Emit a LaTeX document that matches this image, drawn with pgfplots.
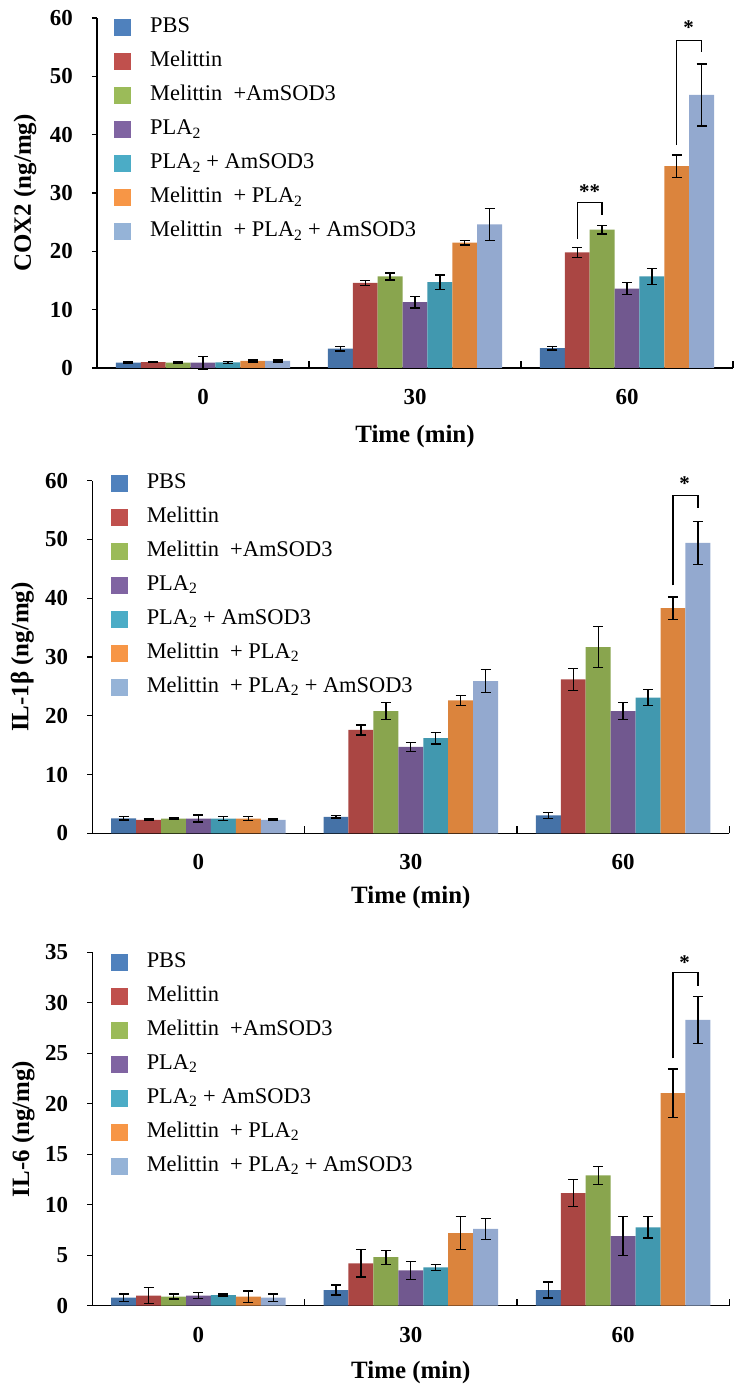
\documentclass[border=0pt]{standalone}
\usepackage{fontspec}
\setmainfont{Liberation Serif}
\usepackage{pgfplots}
\pgfplotsset{compat=1.18}

\definecolor{b1}{HTML}{4572A7}\definecolor{l1}{HTML}{4F81BD}
\definecolor{b2}{HTML}{AA4643}\definecolor{l2}{HTML}{C0504D}
\definecolor{b3}{HTML}{89A54E}\definecolor{l3}{HTML}{9BBB59}
\definecolor{b4}{HTML}{71588F}\definecolor{l4}{HTML}{8064A2}
\definecolor{b5}{HTML}{4198AF}\definecolor{l5}{HTML}{4BACC6}
\definecolor{b6}{HTML}{DB843D}\definecolor{l6}{HTML}{F79646}
\definecolor{b7}{HTML}{93A9CF}\definecolor{l7}{HTML}{95B3D7}

\pgfplotsset{
  panel/.style={
    scale only axis, anchor=south west, clip=false,
    xmin=-0.5, xmax=2.5, ymin=0,
    axis x line*=bottom, axis y line*=left,
    axis line style={line width=1.2bp, black},
    every tick/.style={line width=1.2bp, black},
    tick align=outside,
    major tick length=5bp,
    xtick={0,1,2}, xticklabels={0,30,60},
    major x tick style={draw=none},
    minor xtick={0.5,1.5,2.5},
    minor tick length=7bp,
    minor x tick style={yshift=7bp},
    ticklabel style={font=\bfseries\fontsize{23}{23}\selectfont},
    /pgf/number format/assume math mode=true,
    xticklabel style={anchor=center, yshift=-24bp},
    yticklabel style={anchor=east, inner sep=0pt, xshift=-19bp},
    xlabel={Time (min)},
    label style={font=\bfseries\fontsize{25}{25}\selectfont},
    xlabel style={at={(axis description cs:0.5,0)}, anchor=center},
    ylabel style={at={(axis description cs:0,0.5)}, anchor=center},
    ybar, bar width=0.1174,
    legend cell align=left,
    legend style={draw=none, fill=none, inner sep=0pt, outer sep=0pt,
      anchor=north west, row sep=14bp, column sep=19bp,
      font=\fontsize{22.5}{22.5}\selectfont,
      nodes={inner sep=0pt, text height=15bp, text depth=5bp}},
  },
  eb/.style={draw=none, error bars/.cd, y dir=both, y explicit,
    error bar style={draw=black, line width=1.3bp},
    error mark options={rotate=90, mark size=5bp, line width=1.3bp, draw=black}},
  s1/.style={fill=b1, bar shift=-0.3522, legend image code/.code={\fill[l1] (0bp,-8.5bp) rectangle (17bp,8.5bp);}},
  s2/.style={fill=b2, bar shift=-0.2348, legend image code/.code={\fill[l2] (0bp,-8.5bp) rectangle (17bp,8.5bp);}},
  s3/.style={fill=b3, bar shift=-0.1174, legend image code/.code={\fill[l3] (0bp,-8.5bp) rectangle (17bp,8.5bp);}},
  s4/.style={fill=b4, bar shift=0, legend image code/.code={\fill[l4] (0bp,-8.5bp) rectangle (17bp,8.5bp);}},
  s5/.style={fill=b5, bar shift=0.1174, legend image code/.code={\fill[l5] (0bp,-8.5bp) rectangle (17bp,8.5bp);}},
  s6/.style={fill=b6, bar shift=0.2348, legend image code/.code={\fill[l6] (0bp,-8.5bp) rectangle (17bp,8.5bp);}},
  s7/.style={fill=b7, bar shift=0.3522, legend image code/.code={\fill[l7] (0bp,-8.5bp) rectangle (17bp,8.5bp);}},
}
\newcommand{\entries}{\legend{PBS, Melittin, Melittin\ \ +AmSOD3, PLA\textsubscript{2}, PLA\textsubscript{2} + AmSOD3, Melittin\ \ + PLA\textsubscript{2}, Melittin\ \ + PLA\textsubscript{2} + AmSOD3}}
\newcommand{\bracket}[5]{% x1 y1 x2 y2 top
  \draw[line width=1.3bp, black] (axis cs:#1,#2) -- (axis cs:#1,#5) -- (axis cs:#3,#5) -- (axis cs:#3,#4);}

\begin{document}
\begin{tikzpicture}
\path[use as bounding box] (0,0) rectangle (748bp,1392bp);

% ---------- Panel 1: COX2 ----------
\begin{axis}[panel, at={(97bp,1024bp)}, width=636bp, height=350bp,
  ymax=60, ytick={0,10,...,60}, ylabel={COX2 (ng/mg)},
  ylabel style={yshift=72bp}, xlabel style={yshift=-69bp},
  legend style={at={(rel axis cs:0.027,1.0)}}]
\addplot[s1, eb] coordinates {(0,0.9) +- (0,0.15) (1,3.3) +- (0,0.4) (2,3.4) +- (0,0.3)};
\addplot[s2, eb] coordinates {(0,1.0) +- (0,0.1) (1,14.6) +- (0,0.4) (2,19.8) +- (0,0.9)};
\addplot[s3, eb] coordinates {(0,0.9) +- (0,0.15) (1,15.7) +- (0,0.6) (2,23.7) +- (0,0.75)};
\addplot[s4, eb] coordinates {(0,0.9) +- (0,1.1) (1,11.3) +- (0,1.0) (2,13.6) +- (0,1.0)};
\addplot[s5, eb] coordinates {(0,0.95) +- (0,0.15) (1,14.7) +- (0,1.25) (2,15.7) +- (0,1.4)};
\addplot[s6, eb] coordinates {(0,1.2) +- (0,0.15) (1,21.5) +- (0,0.4) (2,34.6) +- (0,1.9)};
\addplot[s7, eb] coordinates {(0,1.2) +- (0,0.15) (1,24.6) +- (0,2.7) (2,46.8) +- (0,5.3)};
\entries
\bracket{1.7652}{22.1}{1.8826}{26.2}{28.4}
\node[font=\bfseries\fontsize{21}{21}\selectfont, anchor=base, yshift=-10bp] at (axis cs:1.824,30.7) {**};
\bracket{2.2348}{38.2}{2.3522}{54.1}{56.2}
\node[font=\bfseries\fontsize{21}{21}\selectfont, anchor=base, yshift=-10bp] at (axis cs:2.29,58.8) {*};
\end{axis}

% ---------- Panel 2: IL-1beta ----------
\begin{axis}[panel, at={(92.3bp,558.7bp)}, width=637bp, height=352.6bp,
  ymax=60, ytick={0,10,...,60}, ylabel={IL-1β (ng/mg)},
  ylabel style={yshift=70bp}, xlabel style={yshift=-64bp},
  legend style={at={(axis description cs:0.029,1.02)}}]
\addplot[s1, eb] coordinates {(0,2.55) +- (0,0.3) (1,2.8) +- (0,0.2) (2,3.05) +- (0,0.5)};
\addplot[s2, eb] coordinates {(0,2.3) +- (0,0.15) (1,17.6) +- (0,0.85) (2,26.2) +- (0,1.9)};
\addplot[s3, eb] coordinates {(0,2.5) +- (0,0.1) (1,20.8) +- (0,1.4) (2,31.7) +- (0,3.45)};
\addplot[s4, eb] coordinates {(0,2.5) +- (0,0.6) (1,14.7) +- (0,0.8) (2,20.8) +- (0,1.4)};
\addplot[s5, eb] coordinates {(0,2.5) +- (0,0.3) (1,16.2) +- (0,1.0) (2,23.1) +- (0,1.4)};
\addplot[s6, eb] coordinates {(0,2.5) +- (0,0.3) (1,22.6) +- (0,0.9) (2,38.3) +- (0,1.9)};
\addplot[s7, eb] coordinates {(0,2.3) +- (0,0.15) (1,25.9) +- (0,2.0) (2,49.4) +- (0,3.7)};
\entries
\bracket{2.2348}{42.2}{2.3522}{55.3}{57.5}
\node[font=\bfseries\fontsize{21}{21}\selectfont, anchor=base, yshift=-10bp] at (axis cs:2.29,60.1) {*};
\end{axis}

% ---------- Panel 3: IL-6 ----------
\begin{axis}[panel, at={(92.3bp,86.3bp)}, width=637bp, height=353.4bp,
  ymax=35, ytick={0,5,...,35}, ylabel={IL-6 (ng/mg)},
  ylabel style={yshift=69bp}, xlabel style={yshift=-67bp},
  legend style={at={(axis description cs:0.029,1.0)}}]
\addplot[s1, eb] coordinates {(0,0.8) +- (0,0.35) (1,1.55) +- (0,0.5) (2,1.55) +- (0,0.8)};
\addplot[s2, eb] coordinates {(0,1.0) +- (0,0.8) (1,4.2) +- (0,1.35) (2,11.15) +- (0,1.35)};
\addplot[s3, eb] coordinates {(0,0.9) +- (0,0.25) (1,4.8) +- (0,0.7) (2,12.9) +- (0,0.9)};
\addplot[s4, eb] coordinates {(0,1.0) +- (0,0.3) (1,3.5) +- (0,0.9) (2,6.9) +- (0,1.9)};
\addplot[s5, eb] coordinates {(0,1.05) +- (0,0.1) (1,3.8) +- (0,0.3) (2,7.75) +- (0,1.05)};
\addplot[s6, eb] coordinates {(0,0.9) +- (0,0.55) (1,7.2) +- (0,1.6) (2,21.05) +- (0,2.4)};
\addplot[s7, eb] coordinates {(0,0.8) +- (0,0.35) (1,7.6) +- (0,1.05) (2,28.3) +- (0,2.3)};
\entries
\bracket{2.2348}{24.5}{2.3522}{31.65}{33.0}
\node[font=\bfseries\fontsize{21}{21}\selectfont, anchor=base, yshift=-10bp] at (axis cs:2.29,34.3) {*};
\end{axis}
\end{tikzpicture}
\end{document}
